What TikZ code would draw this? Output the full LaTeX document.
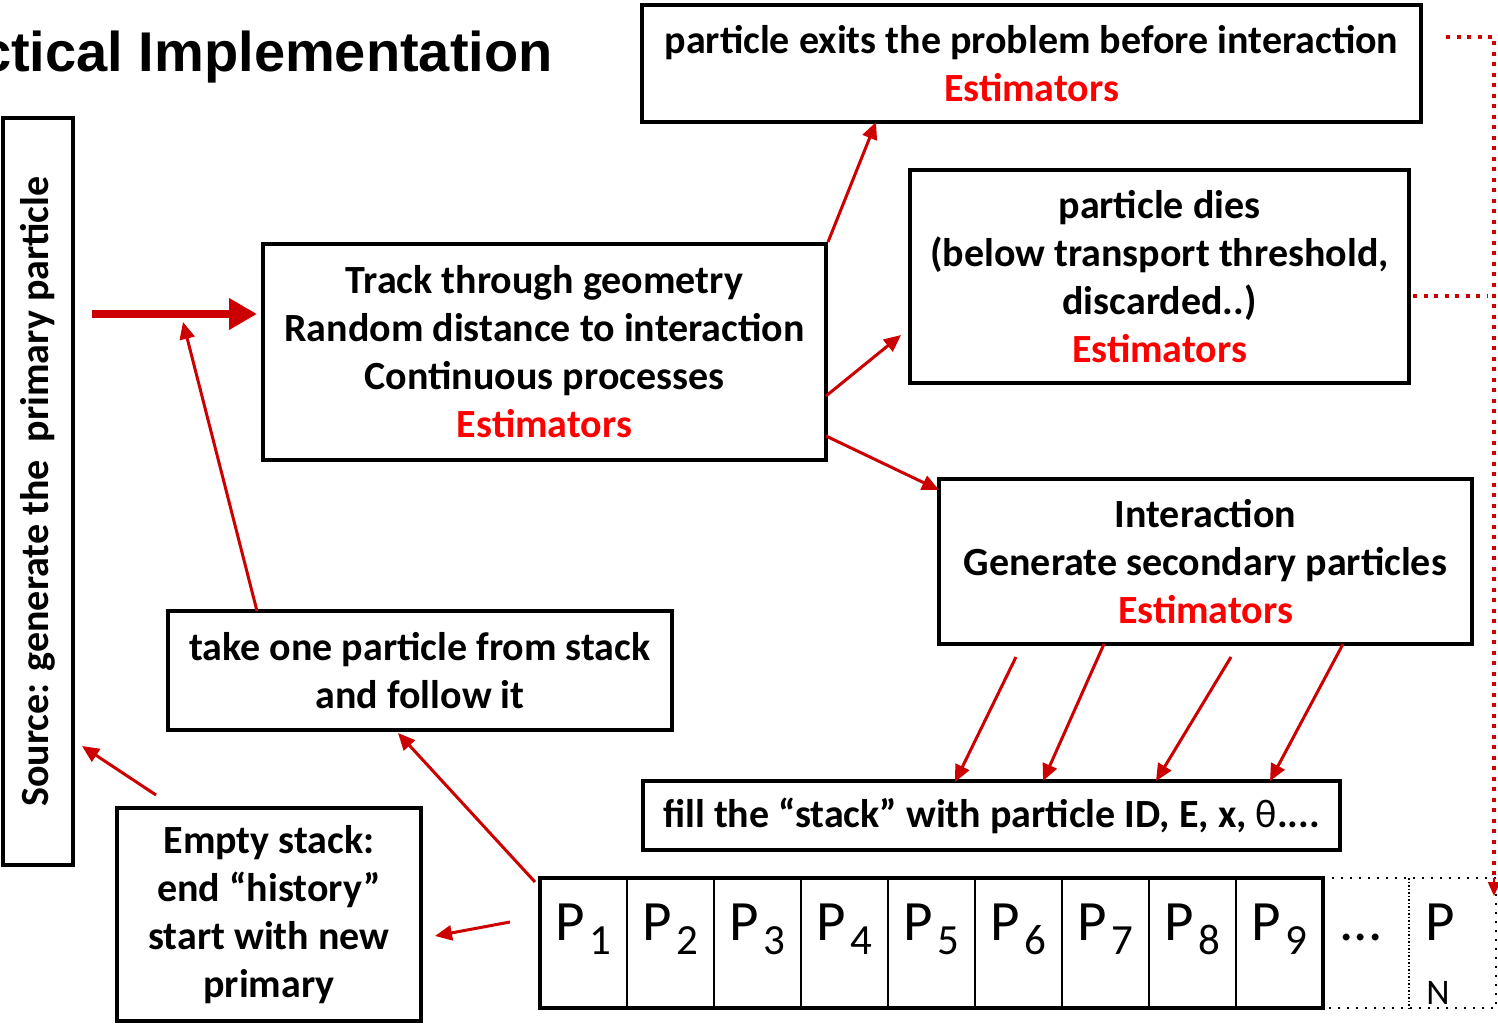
\documentclass[tikz,border=0pt]{standalone}
\usepackage{fontspec}
\setmainfont{Carlito}
\newfontfamily\titlefont{Liberation Sans}
\usetikzlibrary{arrows.meta}
\definecolor{arrred}{HTML}{CC0000}
\definecolor{estred}{HTML}{FF0000}
\newcommand{\est}{\textcolor{estred}{Estimators}}
\newcommand{\cellP}[1]{P\hspace{4pt}\raisebox{-14pt}{\fontsize{43}{43}\selectfont #1}}
\tikzset{
  box/.style={draw, line width=4pt, inner sep=0pt, align=center, font=\bfseries\fontsize{40}{48}\selectfont},
  cell/.style={draw, line width=1.5pt, inner sep=0pt, minimum width=87pt, minimum height=130pt},
  ptext/.style={inner sep=0pt, anchor=base, font=\fontsize{57}{57}\selectfont},
  arr/.style={draw=arrred, line width=3pt, -{Triangle[length=17pt,width=15pt]}},
  bigarr/.style={draw=arrred, line width=8pt, -{Triangle[length=28pt,width=30pt]}},
  reddots/.style={draw=arrred, line width=4pt, dash pattern=on 4pt off 6.5pt},
  blackdots/.style={draw, line width=2pt, dash pattern=on 2pt off 7pt}
}
\begin{document}
\begin{tikzpicture}[x=1pt,y=-1pt]
\useasboundingbox (0,0) rectangle (1498,1024);
\begin{scope}
\clip (0,0) rectangle (1498,1024);
\node[anchor=base east, inner sep=0pt, font=\titlefont\bfseries\fontsize{56}{56}\selectfont] (title) at (553,72) {Practical Implementation};
\end{scope}

% boxes
\node[box, rotate=90, minimum width=747pt, minimum height=70pt] (src) at (38,491.5) {Source: generate the\ \ primary particle};
\node[box, minimum width=563pt, minimum height=216pt] (track) at (544.5,352) {Track through geometry\\Random distance to interaction\\Continuous processes\\\est};
\node[box, minimum width=779pt, minimum height=117pt] (exits) at (1031.5,63.5) {particle exits the problem before interaction\\\est};
\node[box, minimum width=499pt, minimum height=213pt] (dies) at (1159.5,276.5) {particle dies\\(below transport threshold,\\discarded..)\\\est};
\node[box, minimum width=533pt, minimum height=165pt] (inter) at (1205.5,561.5) {Interaction\\Generate secondary particles\\\est};
\node[box, minimum width=504pt, minimum height=119pt] (take) at (420,670.5) {take one particle from stack\\and follow it};
\node[box, minimum width=697pt, minimum height=69pt] (fill) at (991.5,815.5) {fill the \textquotedblleft stack\textquotedblright\ with particle ID, E, x, {\mdseries θ}....};
\node[box, minimum width=304pt, minimum height=213pt] (empty) at (269,914.5) {Empty stack:\\end \textquotedblleft history\textquotedblright\\start with new\\primary};

% stack
\foreach \i in {1,...,9} {
  \node[cell] (c\i) at ({540+87*(\i-0.5)},943) {};
  \node[ptext] (p\i) at ({540+87*(\i-0.5)},940) {\cellP{\i}};
}
\node[draw, line width=4.5pt, inner sep=0pt, minimum width=783pt, minimum height=130pt] (stack) at (931.5,943) {};
\coordinate (dA) at (1323,878);
\coordinate (dB) at (1496,878);
\coordinate (dC) at (1496,1008);
\coordinate (dD) at (1323,1008);
\coordinate (dM1) at (1409,878);
\coordinate (dM2) at (1409,1008);
\draw[blackdots] (dA) -- (dB) -- (dC) -- (dD);
\draw[draw, line width=2pt, dash pattern=on 1.5pt off 2pt] (dM1) -- (dM2);
\node[ptext] (dots) at (1361,940) {...};
\node[ptext] (pn) at (1440,940) {P};
\node[inner sep=0pt, anchor=base, font=\fontsize{36}{36}\selectfont] (nsub) at (1438,1004) {N};

% arrows
\coordinate (bigS) at (92,314);
\coordinate (bigE) at (257,314);
\draw[bigarr] (bigS) -- (bigE);
\coordinate (takeS) at (257,611);
\coordinate (takeE) at (183,322);
\draw[arr] (takeS) -- (takeE);
\coordinate (exE) at (876,122);
\draw[arr] (track.north east) -- (exE);
\coordinate (dS) at (826,396);
\coordinate (dE) at (901,335);
\draw[arr] (dS) -- (dE);
\coordinate (iS) at (826,436);
\coordinate (iE) at (939,490);
\draw[arr] (iS) -- (iE);
\coordinate (s1S) at (1016,657); \coordinate (s1E) at (955,782);
\coordinate (s2S) at (1104,644); \coordinate (s2E) at (1043,781);
\coordinate (s3S) at (1231,657); \coordinate (s3E) at (1156,781);
\coordinate (s4S) at (1343,644); \coordinate (s4E) at (1270,781);
\draw[arr] (s1S) -- (s1E);
\draw[arr] (s2S) -- (s2E);
\draw[arr] (s3S) -- (s3E);
\draw[arr] (s4S) -- (s4E);
\coordinate (tkS) at (535,882);
\coordinate (tkE) at (398,733);
\draw[arr] (tkS) -- (tkE);
\coordinate (emS) at (510,922);
\coordinate (emE) at (435,936);
\draw[arr] (emS) -- (emE);
\coordinate (srS) at (156,795);
\coordinate (srE) at (82,746);
\draw[arr] (srS) -- (srE);

% red dotted return
\coordinate (r1) at (1446,37);
\coordinate (r2) at (1494,37);
\coordinate (r3) at (1494,878);
\coordinate (r4) at (1494,896);
\coordinate (q1) at (1413,296);
\coordinate (q2) at (1488,296);
\draw[reddots] (r1) -- (r2) -- (r3);
\draw[reddots] (q1) -- (q2);
\draw[draw=arrred, line width=2pt, -{Triangle[length=14pt,width=12pt]}] (r3) -- (r4);
\end{tikzpicture}
\end{document}
